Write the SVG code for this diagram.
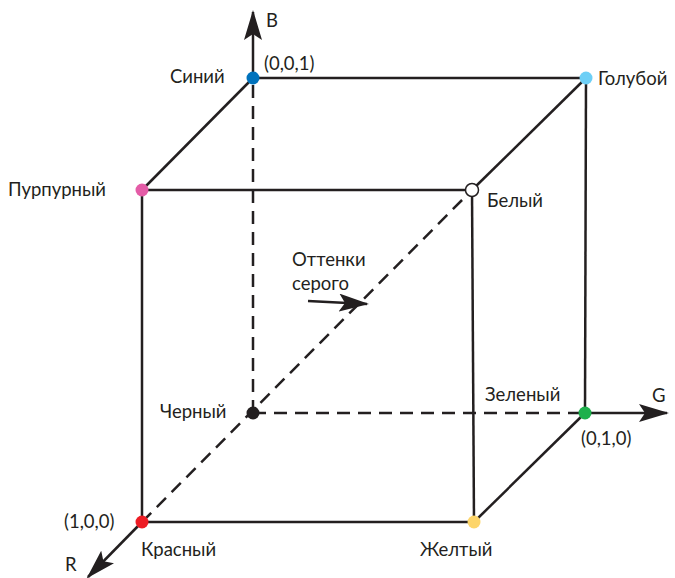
<svg xmlns="http://www.w3.org/2000/svg" width="675" height="578" viewBox="0 0 675 578">
<style>
.e{stroke:#231f20;stroke-width:2.5;fill:none}
.d{stroke:#231f20;stroke-width:2.5;fill:none;stroke-dasharray:13 8}
text{font-family:Lato,"Open Sans","DejaVu Sans",sans-serif;font-size:18.5px;fill:#231f20}
</style>
<defs>
<marker id="ah" viewBox="0 0 30 18" refX="28" refY="9" markerWidth="30" markerHeight="18" markerUnits="userSpaceOnUse" orient="auto">
<path d="M0,0 L30,9 L0,18 L6,9 Z" fill="#231f20"/>
</marker>
</defs>
<g id="connectors">
<line class="d" x1="253" y1="413" x2="253" y2="78"/>
<line class="d" x1="253" y1="413" x2="585" y2="413"/>
<line class="d" x1="142" y1="522" x2="472" y2="190"/>
<line class="e" x1="253" y1="78" x2="586" y2="78"/>
<line class="e" x1="586" y1="78" x2="585" y2="413"/>
<line class="e" x1="142" y1="190" x2="472" y2="190"/>
<line class="e" x1="253" y1="78" x2="142" y2="190"/>
<line class="e" x1="586" y1="78" x2="472" y2="190"/>
<line class="e" x1="142" y1="190" x2="142" y2="522"/>
<line class="e" x1="472" y1="190" x2="474" y2="522"/>
<line class="e" x1="142" y1="522" x2="474" y2="522"/>
<line class="e" x1="585" y1="413" x2="474" y2="522"/>
<line class="e" x1="253" y1="78" x2="253" y2="12" marker-end="url(#ah)"/>
<line class="e" x1="585" y1="413" x2="667" y2="413" marker-end="url(#ah)"/>
<line class="e" x1="142" y1="522" x2="88" y2="577" marker-end="url(#ah)"/>
<line class="e" x1="308" y1="301" x2="367" y2="304" marker-end="url(#ah)"/>
</g>
<g id="axis-labels">
<text x="266" y="27">B</text>
<text x="652" y="402">G</text>
<text x="65" y="571">R</text>
<text x="292" y="266">Оттенки</text>
<text x="292" y="290">серого</text>
</g>
<g id="blue"><circle cx="253" cy="78" r="6.5" fill="#0072bc"/><text x="170" y="83">Синий</text><text x="264" y="70">(0,0,1)</text></g>
<g id="cyan"><circle cx="586" cy="78" r="6.5" fill="#6dcff6"/><text x="598" y="85">Голубой</text></g>
<g id="magenta"><circle cx="142" cy="190" r="6.5" fill="#e45ca7"/><text x="8" y="196">Пурпурный</text></g>
<g id="white"><circle cx="472" cy="190" r="6.5" fill="#ffffff" stroke="#231f20" stroke-width="1.5"/><text x="487" y="207">Белый</text></g>
<g id="black"><circle cx="253" cy="413" r="6.5" fill="#231f20"/><text x="160" y="418">Черный</text></g>
<g id="green"><circle cx="585" cy="413" r="6.5" fill="#1eb04c"/><text x="485" y="401">Зеленый</text><text x="581" y="445">(0,1,0)</text></g>
<g id="red"><circle cx="142" cy="522" r="6.5" fill="#ed1c24"/><text x="64" y="528">(1,0,0)</text><text x="141" y="556">Красный</text></g>
<g id="yellow"><circle cx="474" cy="522" r="6.5" fill="#fdd56a"/><text x="420" y="556">Желтый</text></g>
</svg>
